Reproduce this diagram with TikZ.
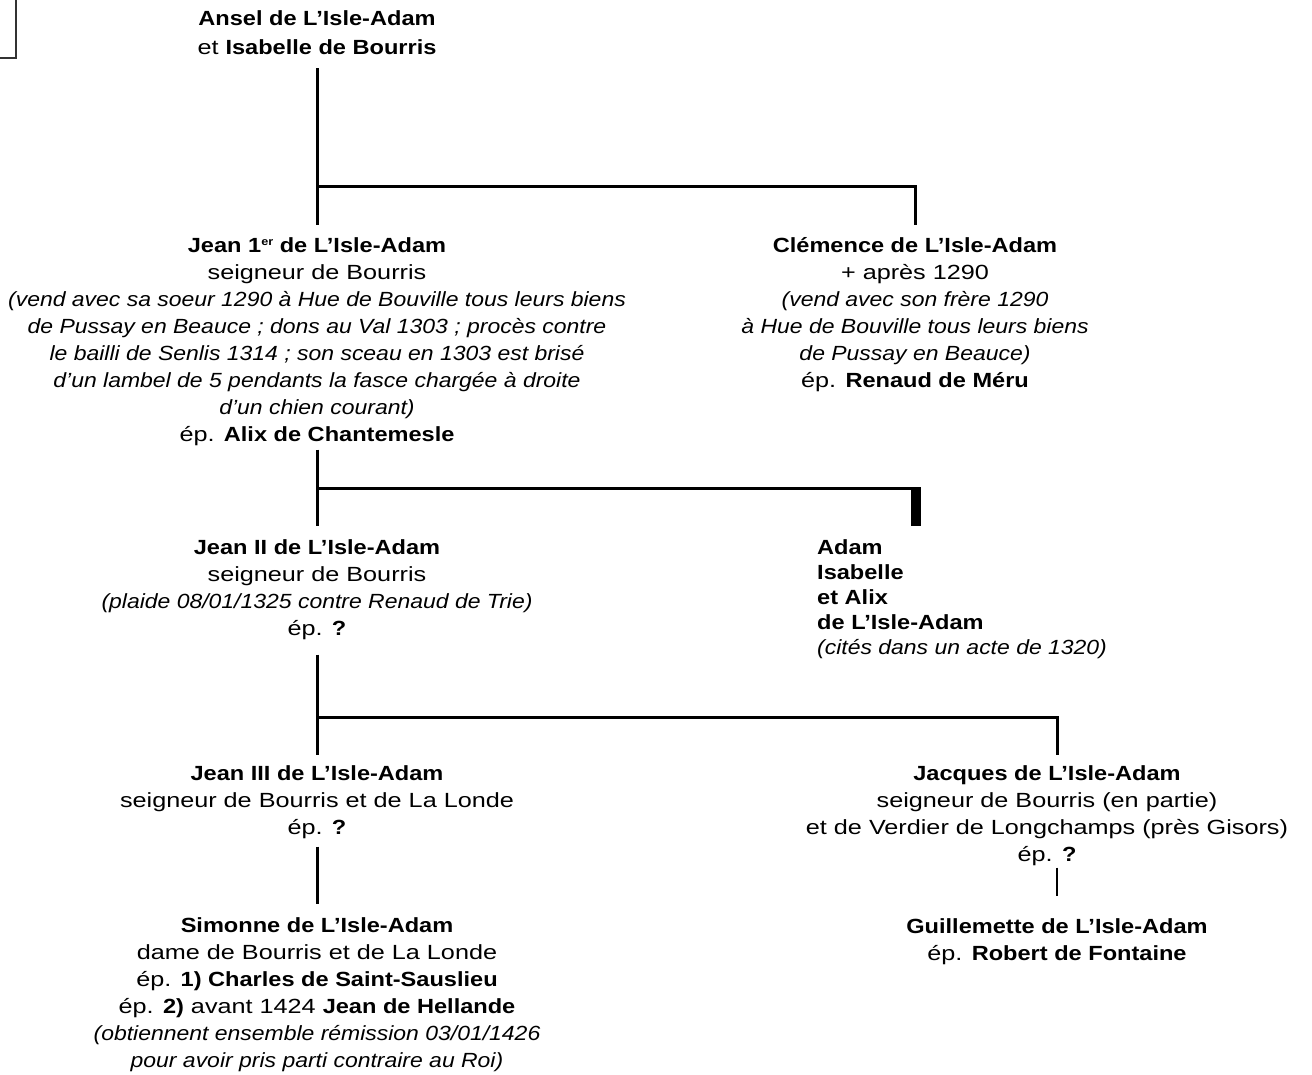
\documentclass[tikz,border=0pt]{standalone}
\usepackage{fontspec}
\setmainfont{Liberation Sans}[
  UprightFeatures={FakeStretch=1.23},
  BoldFeatures={FakeStretch=1.15},
  ItalicFeatures={FakeStretch=1.12},
  BoldItalicFeatures={FakeStretch=1.12}]
\newcommand{\supsmall}[1]{\raisebox{0.62ex}{\fontsize{11}{11}\selectfont #1}}
\tikzset{
  person/.style={align=center, inner sep=0pt, anchor=north, font=\fontsize{20.5}{27}\selectfont},
  conn/.style={line width=3pt, black},
  thinconn/.style={line width=2pt, black},
  frag/.style={line width=2pt, black!80},
}
\begin{document}
\begin{tikzpicture}[x=1pt,y=-1pt]
\useasboundingbox (0,0) rectangle (1312,1075);
\draw[frag] (0,58) -- (16,58) -- (16,-2);

\node[person, font=\fontsize{20.5}{29}\selectfont] (ansel) at (317,10)
  {\textbf{Ansel de L’Isle-Adam}\\et \textbf{Isabelle de Bourris}};

\node[person] (jean1) at (317,237)
  {\textbf{Jean 1\supsmall{er} de L’Isle-Adam}\\
   seigneur de Bourris\\
   \textit{(vend avec sa soeur 1290 à Hue de Bouville tous leurs biens}\\
   \textit{de Pussay en Beauce ; dons au Val 1303 ; procès contre}\\
   \textit{le bailli de Senlis 1314 ; son sceau en 1303 est brisé}\\
   \textit{d’un lambel de 5 pendants la fasce chargée à droite}\\
   \textit{d’un chien courant)}\\
   ép. \textbf{Alix de Chantemesle}};

\node[person] (clem) at (915,237)
  {\textbf{Clémence de L’Isle-Adam}\\
   + après 1290\\
   \textit{(vend avec son frère 1290}\\
   \textit{à Hue de Bouville tous leurs biens}\\
   \textit{de Pussay en Beauce)}\\
   ép. \textbf{Renaud de Méru}};

\node[person] (jean2) at (317,539)
  {\textbf{Jean II de L’Isle-Adam}\\
   seigneur de Bourris\\
   \textit{(plaide 08/01/1325 contre Renaud de Trie)}\\
   ép. \textbf{?}};

\node[person, anchor=north west, align=left, font=\fontsize{20.5}{25}\selectfont] (adam) at (817,539)
  {\textbf{Adam}\\
   \textbf{Isabelle}\\
   \textbf{et Alix}\\
   \textbf{de L’Isle-Adam}\\
   \textit{(cités dans un acte de 1320)}};

\node[person] (jean3) at (317,765)
  {\textbf{Jean III de L’Isle-Adam}\\
   seigneur de Bourris et de La Londe\\
   ép. \textbf{?}};

\node[person] (jacques) at (1047,765)
  {\textbf{Jacques de L’Isle-Adam}\\
   seigneur de Bourris (en partie)\\
   et de Verdier de Longchamps (près Gisors)\\
   ép. \textbf{?}};

\node[person] (simonne) at (317,917)
  {\textbf{Simonne de L’Isle-Adam}\\
   dame de Bourris et de La Londe\\
   ép. \textbf{1) Charles de Saint-Sauslieu}\\
   ép. \textbf{2)} avant 1424 \textbf{Jean de Hellande}\\
   \textit{(obtiennent ensemble rémission 03/01/1426}\\
   \textit{pour avoir pris parti contraire au Roi)}};

\node[person] (guill) at (1057,918)
  {\textbf{Guillemette de L’Isle-Adam}\\
   ép. \textbf{Robert de Fontaine}};

% tier 1
\coordinate (j1) at (317,187);
\draw[conn] ([yshift=-14pt]ansel.south) -- ([yshift=12pt]jean1.north);
\draw[conn] (j1) -| ([yshift=12pt]clem.north);

% tier 2
\coordinate (j2) at (317,488);
\coordinate (bartop) at (911,486.5);
\coordinate (barbot) at (921,526);
\draw[conn] ([yshift=-4pt]jean1.south) -- ([yshift=13pt]jean2.north);
\draw[conn] (j2) -- (j2 -| bartop);
\fill[black] (bartop) rectangle (barbot);

% tier 3
\coordinate (j3) at (317,717);
\coordinate (j3r) at (1057,717);
\draw[conn] ([yshift=-15pt]jean2.south) -- ([yshift=10pt]jean3.north);
\draw[conn] (j3) -- (j3r) -- ([yshift=10pt]jacques.north -| j3r);
\draw[conn] ([yshift=-8pt]jean3.south) -- ([yshift=13pt]simonne.north);
\draw[thinconn] ([yshift=-2pt]jacques.south -| guill.north) -- ([yshift=22pt]guill.north);
\end{tikzpicture}
\end{document}
